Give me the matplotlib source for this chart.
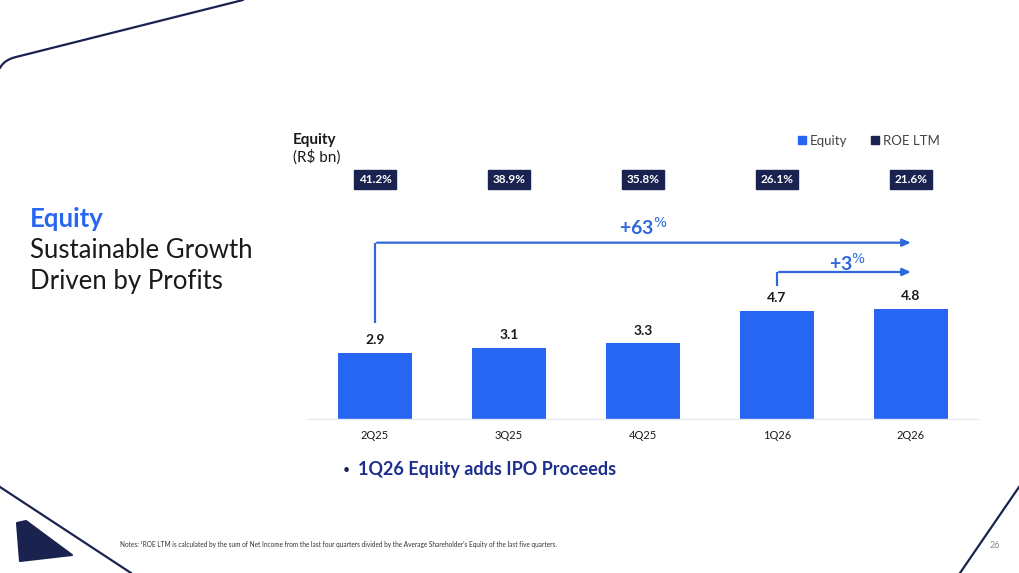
import matplotlib.pyplot as plt
from matplotlib.lines import Line2D
from matplotlib.patches import Polygon
import numpy as np

# data
quarters = ['2Q25', '3Q25', '4Q25', '1Q26', '2Q26']
equity = [2.9, 3.1, 3.3, 4.7, 4.8]
roe_ltm = ['41.2%', '38.9%', '35.8%', '26.1%', '21.6%']
growth_total = '+63'
growth_q = '+3'

BLUE = '#2766F2'
NAVY = '#1A2250'
ARROW = '#2F68DC'
DARK = '#1A1A1A'

plt.rcParams['font.family'] = ['Lato', 'DejaVu Sans']

fig = plt.figure(figsize=(10.19, 5.73), dpi=100)
fig.patch.set_facecolor('white')

# slide decorations (in figure pixel space)
deco = fig.add_axes([0, 0, 1, 1])
deco.set_xlim(0, 1019)
deco.set_ylim(573, 0)
deco.axis('off')
t = np.linspace(0, 1, 20)
cx = 2 * (1 - t) * t * 4 + t ** 2 * 16
cy = (1 - t) ** 2 * 68 + 2 * (1 - t) * t * 60 + t ** 2 * 57
deco.plot(np.r_[cx, 243], np.r_[cy, 0], color=NAVY, lw=1.6, solid_capstyle='round')
deco.plot([0, 131], [487, 573], color=NAVY, lw=1.6)
deco.plot([1019, 960], [487, 573], color=NAVY, lw=1.6)
deco.add_patch(Polygon([(17, 523), (26, 521), (72, 555), (20, 561)], closed=True,
                       facecolor=NAVY, edgecolor=NAVY, joinstyle='round', lw=1.5))

# left title block
fig.text(30 / 1019, 1 - 219 / 573, 'Equity', color=BLUE, fontsize=18.5, fontweight='bold', va='center')
fig.text(30 / 1019, 1 - 251 / 573, 'Sustainable Growth', color=DARK, fontsize=18.5, va='center')
fig.text(30 / 1019, 1 - 282 / 573, 'Driven by Profits', color=DARK, fontsize=18.5, va='center')

# chart
ax = fig.add_axes([308 / 1019, 1 - 419 / 573, 670 / 1019, 12 * 22.9 / 573])
x = np.arange(len(quarters))
ax.bar(x, equity, width=0.55, color=BLUE, zorder=2)
ax.set_xlim(-0.5, len(quarters) - 0.5)
ax.set_ylim(0, 12)
ax.set_xticks(x)
ax.set_xticklabels(quarters, fontsize=8, color=DARK)
ax.tick_params(axis='x', length=0, pad=8)
ax.set_yticks([])
for s in ['top', 'right', 'left']:
    ax.spines[s].set_visible(False)
ax.spines['bottom'].set_color('#E6E9EF')
ax.spines['bottom'].set_linewidth(1)

for xi, v in zip(x, equity):
    ax.text(xi, v + 0.3, f'{v:.1f}', ha='center', va='bottom', fontsize=10,
            fontweight='bold', color=DARK)

for xi, r in zip(x, roe_ltm):
    ax.text(xi, 10.45, r, ha='center', va='center', fontsize=8.5, fontweight='bold',
            color='white', bbox=dict(boxstyle='square,pad=0.35', fc=NAVY, ec=NAVY))

# growth arrows
y_big = 7.7
ax.plot([x[0], x[0]], [equity[0] + 1.3, y_big], color=ARROW, lw=1.6, solid_capstyle='butt')
ax.annotate('', xy=(x[-1] + 0.02, y_big), xytext=(x[0] - 0.006, y_big),
            arrowprops=dict(arrowstyle='-|>,head_length=0.5,head_width=0.22', color=ARROW, lw=1.6))
ax.text((x[0] + x[-1]) / 2, y_big + 0.2, growth_total + '$^{\\%}$', ha='center', va='bottom',
        fontsize=14, fontweight='bold', color=ARROW)

y_small = 6.42
ax.plot([x[3], x[3]], [equity[3] + 1.1, y_small], color=ARROW, lw=1.6, solid_capstyle='butt')
ax.annotate('', xy=(x[-1] + 0.02, y_small), xytext=(x[3] - 0.006, y_small),
            arrowprops=dict(arrowstyle='-|>,head_length=0.5,head_width=0.22', color=ARROW, lw=1.6))
ax.text((x[3] + x[-1]) / 2 + 0.03, y_small - 0.08, growth_q + '$^{\\%}$', ha='center', va='bottom',
        fontsize=14, fontweight='bold', color=ARROW)

# header and legend
fig.text(293 / 1019, 1 - 140 / 573, 'Equity', fontsize=11, fontweight='bold', color=DARK, va='center')
fig.text(293 / 1019, 1 - 157 / 573, '(R$ bn)', fontsize=11, color=DARK, va='center')
handles = [Line2D([], [], ls='', marker='s', ms=5.5, color=BLUE, label='Equity'),
           Line2D([], [], ls='', marker='s', ms=5.5, color=NAVY, label='ROE LTM')]
fig.legend(handles=handles, loc='center right', bbox_to_anchor=(952 / 1019, 1 - 141 / 573),
           ncol=2, frameon=False, fontsize=9.5, handlelength=0.6, handletextpad=0.3,
           columnspacing=1.8, labelcolor='#444444')

# bullet and footnote
fig.text(343 / 1019, 1 - 470 / 573, '•', fontsize=9, color=NAVY, va='center')
fig.text(358 / 1019, 1 - 470 / 573, '1Q26 Equity adds IPO Proceeds', fontsize=13,
         fontweight='bold', color='#1C2E8C', va='center')
fig.text(120 / 1019, 1 - 545 / 573,
         "Notes: ¹ROE LTM is calculated by the sum of Net Income from the last four quarters divided by "
         "the Average Shareholder's Equity of the last five quarters.",
         fontsize=4.7, color='#333333', va='center')
fig.text(995 / 1019, 1 - 545 / 573, '26', fontsize=6.5, color='#888888', va='center', ha='center')

fig.savefig('out.png', dpi=100, facecolor='white')
